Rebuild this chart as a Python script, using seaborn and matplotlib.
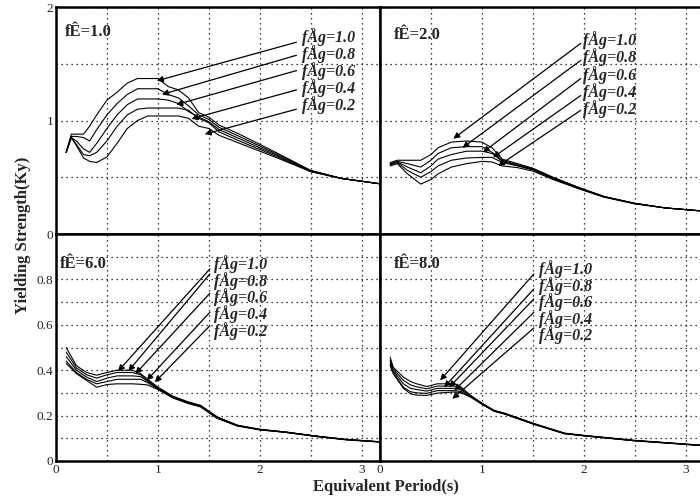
import matplotlib
matplotlib.use("Agg")
import matplotlib.pyplot as plt
import seaborn as sns
import pandas as pd

# fAg levels, top curve first
fag_levels = [1.0, 0.8, 0.6, 0.4, 0.2]
fag_labels = ["fÅg=1.0", "fÅg=0.8", "fÅg=0.6", "fÅg=0.4", "fÅg=0.2"]
panel_titles = ["fÊ=1.0", "fÊ=2.0", "fÊ=6.0", "fÊ=8.0"]

# panel fE=1.0
t1 = [0.1, 0.15, 0.2, 0.27, 0.33, 0.4, 0.5, 0.6, 0.7, 0.8, 0.9, 1.0, 1.1, 1.2,
      1.3, 1.4, 1.5, 1.6, 1.8, 2.0, 2.2, 2.5, 2.8, 3.2]
y1 = [
    [0.72, 0.88, 0.88, 0.88, 0.95, 1.05, 1.18, 1.25, 1.33, 1.37, 1.37, 1.37, 1.30, 1.27,
     1.20, 1.07, 1.03, 0.96, 0.88, 0.79, 0.70, 0.56, 0.49, 0.44],
    [0.72, 0.86, 0.86, 0.85, 0.82, 0.92, 1.05, 1.15, 1.23, 1.28, 1.28, 1.28, 1.23, 1.20,
     1.13, 1.05, 1.01, 0.94, 0.86, 0.775, 0.69, 0.56, 0.49, 0.44],
    [0.72, 0.85, 0.82, 0.75, 0.72, 0.80, 0.93, 1.05, 1.14, 1.19, 1.19, 1.19, 1.18, 1.15,
     1.08, 1.03, 0.99, 0.92, 0.84, 0.76, 0.68, 0.555, 0.49, 0.44],
    [0.72, 0.85, 0.79, 0.70, 0.69, 0.72, 0.82, 0.95, 1.05, 1.10, 1.11, 1.11, 1.11, 1.11,
     1.09, 1.02, 0.98, 0.90, 0.82, 0.745, 0.67, 0.55, 0.49, 0.44],
    [0.72, 0.85, 0.78, 0.67, 0.64, 0.63, 0.68, 0.80, 0.93, 1.00, 1.04, 1.04, 1.04, 1.04,
     1.02, 0.95, 0.93, 0.87, 0.80, 0.73, 0.66, 0.55, 0.49, 0.44],
]

# panel fE=2.0
t2 = [0.1, 0.17, 0.27, 0.4, 0.5, 0.57, 0.7, 0.85, 1.0, 1.1, 1.2, 1.35, 1.5, 1.7,
      1.95, 2.2, 2.5, 2.8, 3.2]
y2 = [
    [0.63, 0.65, 0.65, 0.65, 0.70, 0.76, 0.81, 0.82, 0.81, 0.76, 0.66, 0.62, 0.58, 0.50,
     0.41, 0.33, 0.27, 0.23, 0.20],
    [0.62, 0.64, 0.62, 0.59, 0.65, 0.71, 0.76, 0.77, 0.77, 0.72, 0.65, 0.61, 0.575, 0.495,
     0.41, 0.33, 0.27, 0.23, 0.20],
    [0.615, 0.635, 0.59, 0.54, 0.60, 0.66, 0.70, 0.73, 0.73, 0.71, 0.64, 0.605, 0.57, 0.49,
     0.405, 0.33, 0.27, 0.23, 0.20],
    [0.61, 0.63, 0.56, 0.50, 0.55, 0.60, 0.65, 0.67, 0.675, 0.675, 0.63, 0.60, 0.565, 0.485,
     0.40, 0.325, 0.27, 0.23, 0.20],
    [0.60, 0.62, 0.53, 0.44, 0.48, 0.53, 0.59, 0.62, 0.64, 0.635, 0.60, 0.585, 0.555, 0.48,
     0.40, 0.325, 0.265, 0.23, 0.20],
]

# panel fE=6.0
t3 = [0.1, 0.2, 0.3, 0.4, 0.5, 0.6, 0.75, 0.83, 0.9, 1.0, 1.15, 1.3, 1.42, 1.58, 1.78,
      2.0, 2.25, 2.55, 2.85, 3.2]
y3 = [
    [0.50, 0.42, 0.39, 0.378, 0.39, 0.40, 0.40, 0.385, 0.36, 0.325, 0.285, 0.26, 0.245,
     0.195, 0.158, 0.140, 0.128, 0.110, 0.095, 0.084],
    [0.48, 0.41, 0.38, 0.365, 0.38, 0.39, 0.39, 0.38, 0.355, 0.323, 0.283, 0.258, 0.243,
     0.193, 0.157, 0.139, 0.128, 0.110, 0.095, 0.084],
    [0.46, 0.40, 0.37, 0.35, 0.365, 0.375, 0.375, 0.372, 0.35, 0.32, 0.281, 0.256, 0.241,
     0.191, 0.156, 0.138, 0.127, 0.109, 0.094, 0.084],
    [0.44, 0.39, 0.36, 0.34, 0.35, 0.36, 0.36, 0.36, 0.345, 0.318, 0.279, 0.255, 0.240,
     0.190, 0.155, 0.138, 0.127, 0.109, 0.094, 0.083],
    [0.43, 0.385, 0.355, 0.325, 0.337, 0.34, 0.34, 0.338, 0.335, 0.315, 0.277, 0.253, 0.238,
     0.188, 0.154, 0.137, 0.126, 0.108, 0.093, 0.083],
]

# panel fE=8.0
t4 = [0.1, 0.13, 0.23, 0.3, 0.36, 0.46, 0.56, 0.73, 0.79, 0.89, 1.0, 1.12, 1.22, 1.52,
      1.81, 2.0, 2.5, 3.2]
y4 = [
    [0.457, 0.413, 0.369, 0.35, 0.34, 0.328, 0.34, 0.34, 0.328, 0.289, 0.255, 0.223, 0.211,
     0.164, 0.123, 0.113, 0.091, 0.068],
    [0.445, 0.405, 0.355, 0.335, 0.327, 0.318, 0.33, 0.33, 0.322, 0.287, 0.254, 0.222, 0.210,
     0.163, 0.122, 0.112, 0.090, 0.068],
    [0.435, 0.398, 0.34, 0.32, 0.315, 0.308, 0.32, 0.32, 0.315, 0.285, 0.253, 0.221, 0.209,
     0.162, 0.121, 0.112, 0.090, 0.067],
    [0.425, 0.39, 0.325, 0.305, 0.30, 0.298, 0.31, 0.31, 0.307, 0.283, 0.252, 0.220, 0.208,
     0.161, 0.121, 0.111, 0.089, 0.067],
    [0.42, 0.385, 0.32, 0.296, 0.29, 0.289, 0.299, 0.304, 0.302, 0.281, 0.250, 0.219, 0.207,
     0.160, 0.120, 0.111, 0.089, 0.067],
]

periods = [t1, t2, t3, t4]
strengths = [y1, y2, y3, y4]

# annotation layout per panel: label x, label y's, arrow start x, arrow start y's, arrow tips
layout = [
    dict(tx=2.41, ty=[1.735, 1.585, 1.436, 1.29, 1.14], sx=2.36,
         sy=[1.69, 1.575, 1.44, 1.27, 1.10],
         tips=[(0.99, 1.35), (1.04, 1.23), (1.18, 1.14), (1.33, 1.015), (1.46, 0.88)],
         title=(0.09, 1.78)),
    dict(tx=1.99, ty=[1.708, 1.555, 1.398, 1.25, 1.105], sx=1.97,
         sy=[1.68, 1.53, 1.37, 1.22, 1.09],
         tips=[(0.72, 0.84), (0.81, 0.76), (1.01, 0.72), (1.11, 0.675), (1.16, 0.60)],
         title=(0.14, 1.75)),
    dict(tx=1.55, ty=[0.868, 0.794, 0.722, 0.648, 0.574], sx=1.51,
         sy=[0.846, 0.824, 0.739, 0.655, 0.596],
         tips=[(0.61, 0.396), (0.71, 0.396), (0.78, 0.384), (0.89, 0.355), (0.97, 0.347)],
         title=(0.04, 0.868)),
    dict(tx=1.56, ty=[0.846, 0.772, 0.699, 0.626, 0.553], sx=1.51,
         sy=[0.824, 0.758, 0.714, 0.655, 0.586],
         tips=[(0.59, 0.355), (0.63, 0.325), (0.68, 0.325), (0.73, 0.311), (0.71, 0.274)],
         title=(0.135, 0.868)),
]

sns.set_style("white")
plt.rcParams['font.family'] = ['Liberation Serif', 'DejaVu Serif']

fig = plt.figure(figsize=(7, 5.03), dpi=100)
gs = fig.add_gridspec(2, 2, left=0.08, right=1.0057, top=0.986, bottom=0.0835,
                      wspace=0, hspace=0)

for i in range(4):
    row, col = divmod(i, 2)
    ax = fig.add_subplot(gs[row, col])
    for lvl, ys in zip(fag_levels, strengths[i]):
        df = pd.DataFrame({'Period': periods[i], 'Ky': ys})
        sns.lineplot(data=df, x='Period', y='Ky', ax=ax, color='black', lw=0.8)

    ax.set_xlim(0, 3.18)
    ax.set_xticks([0, 0.5, 1, 1.5, 2, 2.5, 3])
    if row == 0:
        ax.set_ylim(0, 2)
        ax.set_yticks([0, 0.5, 1, 1.5, 2])
        ax.set_yticklabels(['0', '', '1', '', '2'])
        ax.set_xticklabels([])
    else:
        ax.set_ylim(0, 1)
        ax.set_yticks([0, 0.1, 0.2, 0.3, 0.4, 0.5, 0.6, 0.7, 0.8, 0.9, 1.0])
        ax.set_yticklabels(['0', '', '0.2', '', '0.4', '', '0.6', '', '0.8', '', ''])
        ax.set_xticklabels(['0', '', '1', '', '2', '', '3'])
    if col == 1:
        ax.set_yticklabels([])
    ax.tick_params(length=0, labelsize=9.5, pad=2)
    ax.grid(True, color='black', linestyle=(0, (1, 3)), linewidth=0.9)
    for sp in ax.spines.values():
        sp.set_linewidth(1.8)
        sp.set_color('black')
    ax.set_xlabel('')
    ax.set_ylabel('')

    lay = layout[i]
    ax.text(lay['title'][0], lay['title'][1], panel_titles[i], fontsize=12,
            fontweight='bold', va='center', ha='left')
    for k in range(5):
        ax.annotate('', xy=lay['tips'][k], xytext=(lay['sx'], lay['sy'][k]),
                    arrowprops=dict(arrowstyle='-|>', color='black', lw=0.9,
                                    mutation_scale=9, shrinkA=0, shrinkB=0))
        ax.text(lay['tx'], lay['ty'][k], fag_labels[k], fontsize=11.5,
                fontweight='bold', fontstyle='italic', va='center', ha='left')

fig.text(0.033, 0.533, 'Yielding Strength(Ky)', rotation=90, fontsize=12,
         fontweight='bold', ha='center', va='center')
fig.text(0.552, 0.032, 'Equivalent Period(s)', fontsize=12,
         fontweight='bold', ha='center', va='center')

plt.savefig('out.png', dpi=100)
